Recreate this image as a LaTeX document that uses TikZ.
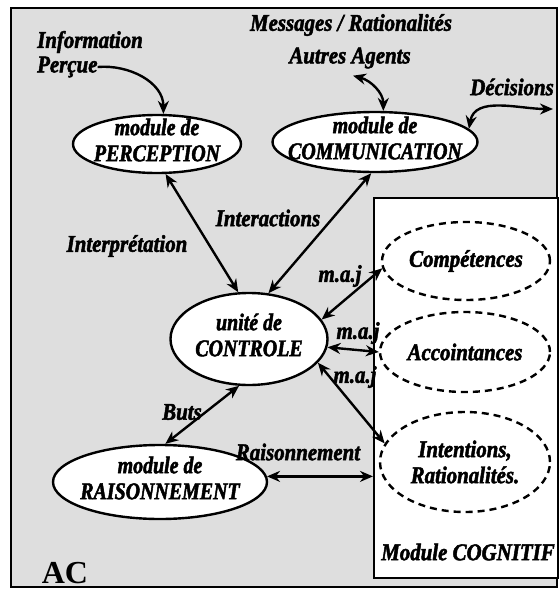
\documentclass[tikz,border=0pt]{standalone}
\usepackage{fontspec}
\setmainfont{Liberation Serif}
\newfontfamily\labfont{Liberation Serif}[FakeStretch=0.87, FakeBold=2]
\newfontfamily\modfont{Liberation Serif}[FakeStretch=0.83, FakeBold=2]
\usetikzlibrary{arrows.meta,shapes.geometric}
\begin{document}
\begin{tikzpicture}[x=1pt,y=-1pt,
  txt/.style={font=\labfont\fontsize{24}{26}\selectfont\bfseries\itshape, inner sep=0pt, align=center},
  mtxt/.style={font=\modfont\fontsize{24}{26}\selectfont\bfseries\itshape, inner sep=0pt, align=center, yshift=4pt},
  mod/.style={ellipse, draw, line width=2.4pt, fill=white, inner sep=0pt},
  cog/.style={ellipse, draw, dash pattern=on 7pt off 5pt, line width=2.4pt, fill=white, inner sep=0pt},
  arr/.style={line width=2.4pt, -{Stealth[length=13pt,width=11pt]}},
  darr/.style={line width=2.4pt, {Stealth[length=13pt,width=11pt]}-{Stealth[length=13pt,width=11pt]}}]
\useasboundingbox (0,0) rectangle (558,589);
\fill[white] (0,0) rectangle (558,589);
\draw[line width=2pt, fill=black!13] (11,8) rectangle (557,587);
\node[draw, line width=2pt, fill=white, minimum width=184pt, minimum height=380pt, anchor=north west, inner sep=0pt] (cogbox) at (373,197) {};
\node[txt] (cogl) at (468,552) {Module COGNITIF};
% modules
\node[mod, minimum width=168pt, minimum height=58pt, label={[mtxt]center:{module de\\PERCEPTION}}] (per) at (157,144) {};
\node[mod, minimum width=205pt, minimum height=60pt, label={[mtxt]center:{module de\\COMMUNICATION}}] (com) at (375,142) {};
\node[mod, minimum width=157pt, minimum height=92pt, label={[mtxt]center:{unité de\\CONTROLE}}] (ctl) at (249,339) {};
\node[mod, minimum width=214pt, minimum height=74pt, label={[mtxt]center:{module de\\RAISONNEMENT}}] (rai) at (160,482) {};
\node[cog, minimum width=168pt, minimum height=78pt, label={[txt]center:{Compétences}}] (cmp) at (466,261) {};
\node[cog, minimum width=170pt, minimum height=80pt, label={[txt]center:{Accointances}}] (acc) at (465,352) {};
\node[cog, minimum width=170pt, minimum height=100pt, label={[txt]center:{Intentions,\\Rationalités.}}] (int) at (465,462) {};
% labels
\node[txt, anchor=west] (inf1) at (37,42) {Information};
\node[txt, anchor=west] (inf2) at (37,67) {Perçue};
\node[txt] (msg) at (351,25) {Messages / Rationalités};
\node[txt] (agt) at (350,58) {Autres Agents};
\node[txt] (dec) at (512,87) {Décisions};
\coordinate (decend) at (553,109);
\node[txt] (itp) at (127,246) {Interprétation};
\node[txt] (itc) at (268,218) {Interactions};
\node[txt] (m1) at (340,276) {m.a.j};
\node[txt] (m2) at (358,333) {m.a.j};
\node[txt] (m3) at (355,377) {m.a.j};
\node[txt] (but) at (182,412) {Buts};
\node[txt] (rsn) at (298,452) {Raisonnement};
\node[font=\fontsize{32}{36}\selectfont\bfseries, inner sep=0pt] (ac) at (65,573) {AC};
% connectors
\draw[arr] (inf2.east) to[out=5,in=90] (per.78);
\draw[darr] ([shift={(3,7)}]agt.south) to[out=-15,in=90] (com.75);
\draw[darr] (com.8) to[out=80,in=180] (decend);
\draw[darr] (per.-74) -- (ctl.103);
\draw[darr] (com.-97) -- (ctl.67);
\draw[darr] (ctl.15) -- (cmp.185);
\draw[darr] (ctl.-6) -- (acc.180);
\draw[darr] (ctl.-19) -- (int.167);
\draw[darr] (ctl.-102) -- (rai.82);
\draw[darr] (rai.3) -- (rai.3 -| cogbox.west);
\end{tikzpicture}
\end{document}
